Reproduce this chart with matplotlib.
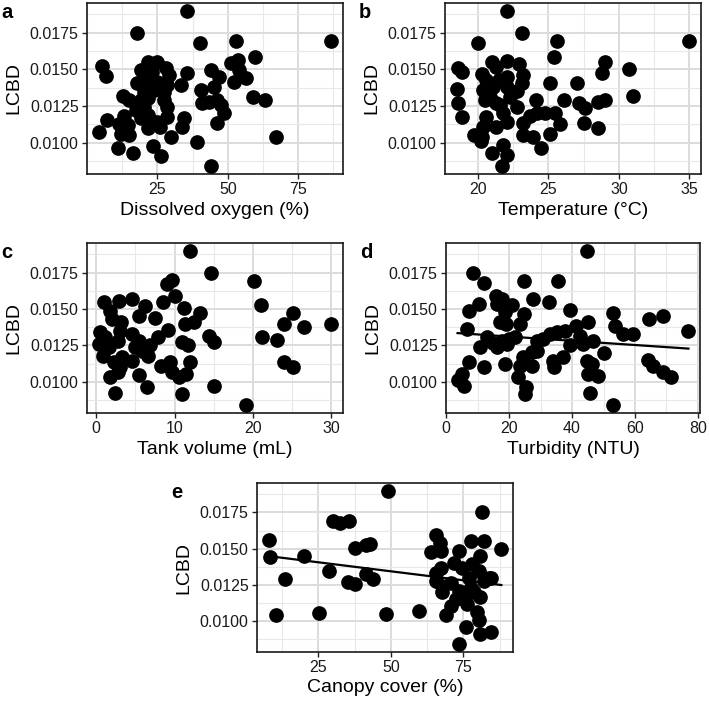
import matplotlib
matplotlib.use("Agg")
import matplotlib.pyplot as plt
import numpy as np
from matplotlib.ticker import AutoMinorLocator, FormatStrFormatter

plt.rcParams['font.family'] = ['Liberation Sans', 'DejaVu Sans']

# Datos (LCBD vs variables ambientales)
oxy_x = [35.6, 17.9, 40.1, 53.0, 86.8, 59.6, 53.6, 5.3, 6.7, 4.1, 7.0, 12.6, 15.0, 13.2, 11.4,
         12.0, 15.0, 11.1, 16.4, 14.4, 21.5, 25.0, 28.0, 29.1, 19.1, 23.2, 17.9, 21.5, 25.0, 28.5,
         20.3, 23.8, 27.4, 19.1, 21.5, 27.4, 17.3, 20.3, 28.5, 19.1, 21.5, 28.5, 21.5, 25.0, 26.0,
         23.5, 26.2, 29.7, 33.3, 35.6, 34.5, 33.9, 39.2, 43.9, 40.4, 41.0, 43.9, 46.9, 45.1, 43.3,
         46.3, 47.5, 48.6, 46.3, 51.0, 52.2, 54.0, 56.6, 59.1, 63.2, 67.0]
oxy_y = [0.0190, 0.0175, 0.01677, 0.01695, 0.01695, 0.01582, 0.01564, 0.01525, 0.01455, 0.01070,
         0.01155, 0.01318, 0.01290, 0.01180, 0.01130, 0.01060, 0.01053, 0.00966, 0.00932, 0.01120,
         0.01552, 0.01552, 0.01507, 0.01461, 0.01495, 0.01484, 0.01405, 0.01427, 0.01416, 0.01393,
         0.01348, 0.01359, 0.01348, 0.01291, 0.01302, 0.01291, 0.01223, 0.01245, 0.01245, 0.01166,
         0.01189, 0.01177, 0.01098, 0.01143, 0.01109, 0.00980, 0.00911, 0.01041, 0.01393, 0.01473,
         0.01166, 0.01110, 0.01007, 0.00840, 0.01360, 0.01270, 0.01495, 0.01450, 0.01382, 0.01280,
         0.01290, 0.01257, 0.01200, 0.01132, 0.01541, 0.01416, 0.01495, 0.01439, 0.01310, 0.01290,
         0.01041]

temp_x = [22.1, 23.1, 20.0, 25.6, 35.0, 25.4, 29.0, 28.8, 30.7, 31.0, 25.1, 27.0, 26.1, 27.2, 27.6,
          28.5, 29.0, 27.5, 28.5, 25.8, 25.5, 25.1, 24.5, 24.1, 23.9, 23.2, 22.8, 22.8, 23.1, 23.2,
          22.9, 22.1, 22.1, 22.1, 22.3, 23.7, 24.2, 24.8, 23.2, 22.1, 21.8, 21.3, 20.6, 20.4, 20.3,
          19.7, 20.2, 21.0, 21.8, 22.1, 21.7, 18.5, 18.6, 18.9, 18.6, 18.9, 20.3, 21.0, 21.3, 20.6,
          20.4, 20.9, 21.3, 21.1, 21.5, 20.5, 21.6]
temp_y = [0.0190, 0.0175, 0.01677, 0.01695, 0.01695, 0.01582, 0.01548, 0.01477, 0.01500, 0.01320,
          0.01405, 0.01405, 0.01290, 0.01268, 0.01234, 0.01280, 0.01290, 0.01132, 0.01102, 0.01130,
          0.01205, 0.01059, 0.00961, 0.01290, 0.01040, 0.01050, 0.01245, 0.01350, 0.01405, 0.01461,
          0.01540, 0.01560, 0.01450, 0.01382, 0.01310, 0.01180, 0.01205, 0.01205, 0.01132, 0.01140,
          0.01200, 0.01110, 0.01177, 0.01110, 0.01040, 0.01050, 0.01010, 0.00930, 0.00984, 0.00916,
          0.00840, 0.01370, 0.01270, 0.01177, 0.01507, 0.01484, 0.01470, 0.01550, 0.01520, 0.01430,
          0.01360, 0.01310, 0.01270, 0.01380, 0.01430, 0.01290, 0.01260]

tank_x = [12.0, 14.7, 20.1, 9.0, 9.6, 10.0, 8.5, 11.2, 13.2, 12.5, 11.3, 21.0, 25.1, 23.9, 26.5,
          30.0, 21.1, 23.0, 23.9, 25.1, 14.4, 15.0, 10.9, 11.7, 11.9, 11.5, 10.6, 11.0, 15.0, 19.1,
          9.2, 7.9, 6.8, 9.4, 8.3, 9.6, 7.5, 6.2, 5.4, 4.5, 2.9, 1.0, 1.8, 2.0, 3.2, 3.0, 2.8, 4.5,
          5.4, 4.9, 5.8, 6.6, 4.5, 3.3, 2.8, 1.8, 2.4, 5.5, 6.5, 0.5, 0.3, 0.9, 1.6, 1.1, 2.2, 3.0]
tank_y = [0.0190, 0.0175, 0.01693, 0.01670, 0.01698, 0.01590, 0.01545, 0.01506, 0.01472, 0.01410,
          0.01397, 0.01529, 0.01470, 0.01397, 0.01378, 0.01400, 0.01306, 0.01287, 0.01135, 0.01105,
          0.01317, 0.01271, 0.01271, 0.01250, 0.01135, 0.01055, 0.01032, 0.00914, 0.00975, 0.00840,
          0.01356, 0.01306, 0.01250, 0.01135, 0.01112, 0.01066, 0.01442, 0.01522, 0.01454, 0.01567,
          0.01556, 0.01545, 0.01488, 0.01431, 0.01410, 0.01350, 0.01283, 0.01330, 0.01283, 0.01237,
          0.01214, 0.01180, 0.01146, 0.01170, 0.01066, 0.01032, 0.00925, 0.01050, 0.00964, 0.01340,
          0.01260, 0.01180, 0.01237, 0.01306, 0.01135, 0.01100]

turb_x = [44.6, 8.5, 12.1, 24.8, 35.4, 15.8, 10.3, 7.1, 6.6, 7.4, 11.9, 10.8, 3.6, 5.0, 5.7,
          17.7, 16.1, 20.8, 18.7, 17.1, 19.0, 23.5, 24.7, 27.7, 32.8, 12.9, 15.0, 17.7, 19.8, 21.9,
          16.1, 19.2, 18.7, 22.9, 24.5, 23.5, 25.4, 25.1, 27.2, 27.2, 28.8, 30.9, 33.0, 35.1, 37.7,
          28.8, 33.8, 34.3, 37.2, 39.3, 41.4, 45.1, 42.5, 43.6, 46.7, 39.3, 44.8, 46.2, 45.1, 48.3,
          45.7, 50.2, 53.1, 52.9, 53.6, 56.2, 59.4, 64.4, 68.9, 64.2, 65.8, 68.9, 71.6, 77.0]
turb_y = [0.0190, 0.0175, 0.01677, 0.01693, 0.01693, 0.01590, 0.01533, 0.01488, 0.01363, 0.01135,
          0.01100, 0.01237, 0.01011, 0.01055, 0.00975, 0.01567, 0.01533, 0.01529, 0.01477, 0.01410,
          0.01397, 0.01400, 0.01465, 0.01567, 0.01545, 0.01306, 0.01270, 0.01283, 0.01294, 0.01306,
          0.01237, 0.01260, 0.01123, 0.01032, 0.01169, 0.01110, 0.00964, 0.00918, 0.01110, 0.01203,
          0.01283, 0.01294, 0.01328, 0.01340, 0.01350, 0.01214, 0.01146, 0.01100, 0.01173, 0.01495,
          0.01385, 0.01408, 0.01317, 0.01260, 0.01283, 0.01250, 0.01146, 0.01123, 0.01055, 0.01043,
          0.00925, 0.01196, 0.00840, 0.01470, 0.01385, 0.01328, 0.01328, 0.01431, 0.01454, 0.01150,
          0.01110, 0.01066, 0.01032, 0.01350]

canopy_x = [49.0, 81.5, 7.9, 8.2, 20.1, 13.4, 10.5, 25.3, 28.8, 30.1, 32.4, 35.5, 37.6, 41.6, 42.7,
            35.3, 37.6, 41.6, 43.8, 48.4, 59.8, 65.5, 66.9, 63.8, 67.2, 65.5, 67.2, 65.5, 67.8, 67.6,
            69.0, 70.7, 73.5, 71.8, 74.7, 70.7, 73.5, 72.4, 75.2, 75.8, 73.5, 77.5, 82.0, 80.9, 78.1,
            80.4, 83.8, 82.1, 76.9, 77.5, 76.4, 80.9, 79.8, 80.4, 80.9, 84.7, 88.1, 75.8, 78.7, 84.4]
canopy_y = [0.0190, 0.0175, 0.01557, 0.01441, 0.01452, 0.01289, 0.01039, 0.01055, 0.01345, 0.01693,
            0.01675, 0.01691, 0.01505, 0.01527, 0.01532, 0.01273, 0.01259, 0.01323, 0.01289, 0.01050,
            0.01068, 0.01595, 0.01539, 0.01477, 0.01482, 0.01334, 0.01368, 0.01277, 0.01243, 0.01198,
            0.01039, 0.01107, 0.01482, 0.01402, 0.01368, 0.01266, 0.01209, 0.01152, 0.01164, 0.00959,
            0.00840, 0.01550, 0.01550, 0.01448, 0.01391, 0.01345, 0.01300, 0.01277, 0.01300, 0.01232,
            0.01120, 0.01164, 0.01061, 0.01005, 0.00914, 0.00925, 0.01500, 0.01198, 0.01198, 0.01300]

paneles = [
    ("a", oxy_x, oxy_y, "Dissolved oxygen (%)", [25, 50, 75], False, (87, 3, 343, 174)),
    ("b", temp_x, temp_y, "Temperature (°C)", [20, 25, 30, 35], False, (445, 3, 701, 174)),
    ("c", tank_x, tank_y, "Tank volume (mL)", [0, 10, 20, 30], False, (87, 243, 343, 413)),
    ("d", turb_x, turb_y, "Turbidity (NTU)", [0, 20, 40, 60, 80], True, (446, 243, 700, 413)),
    ("e", canopy_x, canopy_y, "Canopy cover (%)", [25, 50, 75], True, (257, 483, 513, 652)),
]

W, H = 709, 702
fig = plt.figure(figsize=(W / 100, H / 100), dpi=100)

for letra, xs, ys, xlab, xt, recta, (l, t, r, b) in paneles:
    ax = fig.add_axes([l / W, 1 - b / H, (r - l) / W, (b - t) / H])
    xs = np.array(xs)
    ys = np.array(ys)
    ax.scatter(xs, ys, s=112, color="black", linewidths=0, zorder=3)
    if recta:
        m, c0 = np.polyfit(xs, ys, 1)
        xx = np.array([xs.min(), xs.max()])
        ax.plot(xx, m * xx + c0, color="black", lw=1.6, zorder=4)
    ax.set_ylim(0.00787, 0.01953)
    ax.margins(x=0.05)
    ax.set_xticks(xt)
    ax.set_yticks([0.0100, 0.0125, 0.0150, 0.0175])
    ax.yaxis.set_major_formatter(FormatStrFormatter("%.4f"))
    ax.xaxis.set_minor_locator(AutoMinorLocator(2))
    ax.yaxis.set_minor_locator(AutoMinorLocator(2))
    ax.grid(which="major", color="#dcdcdc", lw=1.4, zorder=0)
    ax.grid(which="minor", color="#e8e8e8", lw=0.8, zorder=0)
    ax.set_axisbelow(True)
    ax.tick_params(which="major", length=3.5, width=1.0, color="#222222",
                   labelsize=11.5, labelcolor="#1a1a1a", pad=2.5)
    ax.tick_params(which="minor", length=0)
    for sp in ax.spines.values():
        sp.set_color("#1a1a1a")
        sp.set_linewidth(1.2)
    ax.set_xlabel(xlab, fontsize=14, labelpad=3)
    ax.set_ylabel("LCBD", fontsize=14, labelpad=5)
    fig.text((l - 86) / W, 1 - (t + 9) / H, letra, fontsize=14.5, fontweight="bold",
             ha="left", va="center")

fig.savefig("out.png", dpi=100)
